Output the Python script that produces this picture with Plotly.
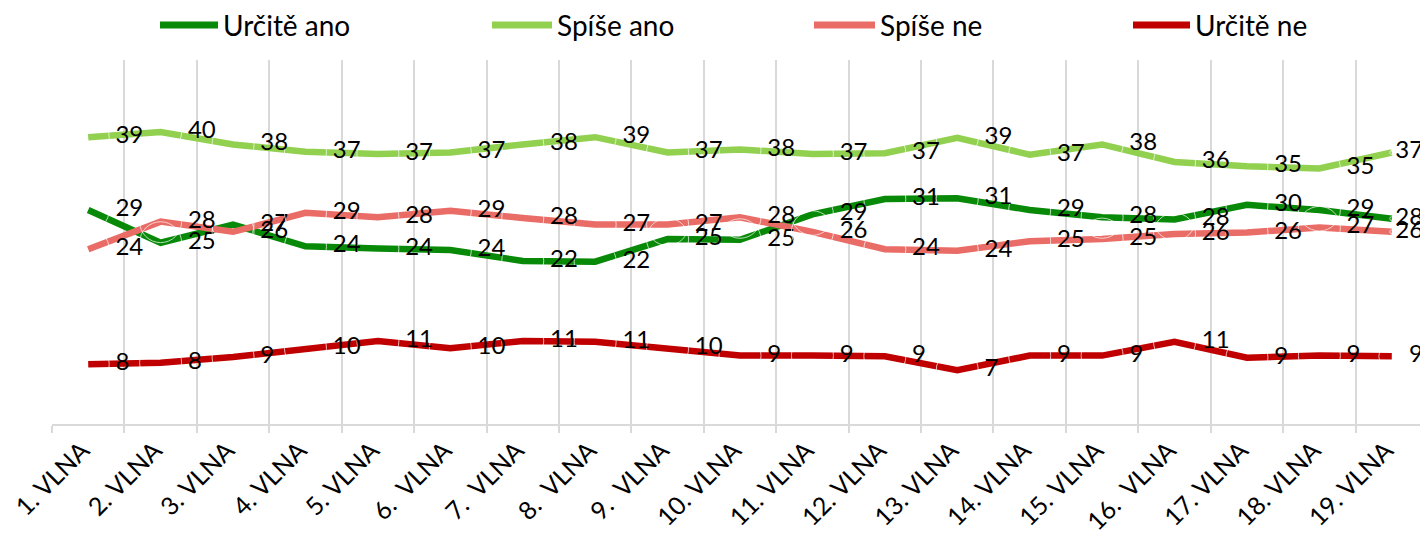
import plotly.graph_objects as go

# ---- data -------------------------------------------------------------
waves = ["1. VLNA", "2. VLNA", "3. VLNA", "4. VLNA", "5. VLNA",
         "6.\u00a0 VLNA", "7.\u00a0 VLNA", "8.\u00a0 VLNA", "9.\u00a0 VLNA",
         "10. VLNA", "11. VLNA", "12. VLNA", "13. VLNA", "14. VLNA",
         "15. VLNA", "16.\u00a0 VLNA", "17. VLNA", "18. VLNA", "19. VLNA"]

urcite_ano = [29.4, 24.9, 27.4, 24.4, 24.1, 23.9, 22.4, 22.3, 25.4, 25.3,
              28.8, 30.9, 31.0, 29.4, 28.4, 28.1, 30.1, 29.4, 28.2]
spise_ano = [39.4, 40.1, 38.4, 37.4, 37.1, 37.3, 38.4, 39.4, 37.3, 37.7,
             37.1, 37.2, 39.3, 37.0, 38.4, 36.0, 35.4, 35.1, 37.3]
spise_ne = [24.0, 27.8, 26.4, 29.0, 28.4, 29.3, 28.3, 27.4, 27.4, 28.4,
            26.4, 24.0, 23.8, 25.1, 25.4, 26.1, 26.3, 27.0, 26.4]
urcite_ne = [8.2, 8.4, 9.2, 10.4, 11.4, 10.4, 11.4, 11.3, 10.4, 9.4,
             9.4, 9.3, 7.4, 9.4, 9.4, 11.3, 9.1, 9.4, 9.3]

series_names = ["Určitě ano", "Spíše ano", "Spíše ne", "Určitě ne"]
series_values = [urcite_ano, spise_ano, spise_ne, urcite_ne]
series_colors = ["#088A08", "#92D050", "#E96C66", "#C00000"]

FONT = "Lato"
OFF = 8                      # default page (body) margin around the figure
W, H = 1428 - OFF, 550 - OFF
ML, MR, MT, MB = 52 - OFF, 0, 60 - OFF, 126
PW, PH = W - ML - MR, H - MT - MB


def px_to_paper(px, py):
    """page pixel -> paper coordinates"""
    fx, fy = px - OFF, py - OFF
    return (fx - ML) / PW, (H - MB - fy) / PH


fig = go.Figure()

for name, vals, col in zip(series_names, series_values, series_colors):
    fig.add_trace(go.Scatter(
        x=waves, y=vals, name=name, mode="lines",
        line=dict(color=col, width=6.5),
        hoverinfo="skip", showlegend=False,
    ))

# data labels, placed to the right of each point (offset via invisible markers)
for name, vals in zip(series_names, series_values):
    sizes = [42] * (len(vals) - 1)
    last_digits = len(str(round(vals[-1])))
    sizes.append(4 if last_digits == 2 else 26)
    fig.add_trace(go.Scatter(
        x=waves, y=vals, mode="markers+text",
        marker=dict(size=sizes, color="rgba(0,0,0,0)"),
        texttemplate="%{y:.0f}", textposition="middle right",
        textfont=dict(family=FONT, size=24, color="#000000"),
        showlegend=False, hoverinfo="skip", cliponaxis=False,
    ))

# legend drawn as line samples + text across the top
legend_line_px = [(160, 218), (492, 552), (814, 875), (1133, 1190)]
legend_y_px = 25
shapes, annotations = [], []
for (x0, x1), name, col in zip(legend_line_px, series_names, series_colors):
    px0, py = px_to_paper(x0, legend_y_px)
    px1, _ = px_to_paper(x1, legend_y_px)
    shapes.append(dict(type="line", xref="paper", yref="paper",
                       x0=px0, x1=px1, y0=py, y1=py,
                       line=dict(color=col, width=7)))
    tx, _ = px_to_paper(x1 + 3, legend_y_px)
    annotations.append(dict(xref="paper", yref="paper", x=tx, y=py,
                            xanchor="left", yanchor="middle", showarrow=False,
                            text=name,
                            font=dict(family=FONT, size=28, color="#000000")))

fig.update_layout(
    width=W, height=H,
    margin=dict(l=ML, r=MR, t=MT, b=MB, autoexpand=False),
    paper_bgcolor="white", plot_bgcolor="white",
    font=dict(family=FONT, color="#000000"),
    showlegend=False,
    shapes=shapes, annotations=annotations,
    xaxis=dict(
        type="category", tickson="boundaries",
        showgrid=True, gridcolor="#D9D9D9", gridwidth=2,
        showline=True, linecolor="#D9D9D9", linewidth=2,
        ticks="outside", ticklen=7, tickcolor="#D9D9D9", tickwidth=2,
        tickangle=-45, tickfont=dict(family=FONT, size=25, color="#000000"),
        ticklabelshift=-6,
        range=[-0.5, len(waves) - 0.5], automargin=False,
    ),
    yaxis=dict(
        range=[0, 50], showgrid=False, zeroline=False,
        showticklabels=False, showline=False, ticks="", automargin=False,
    ),
)

fig.write_html("out.html")
